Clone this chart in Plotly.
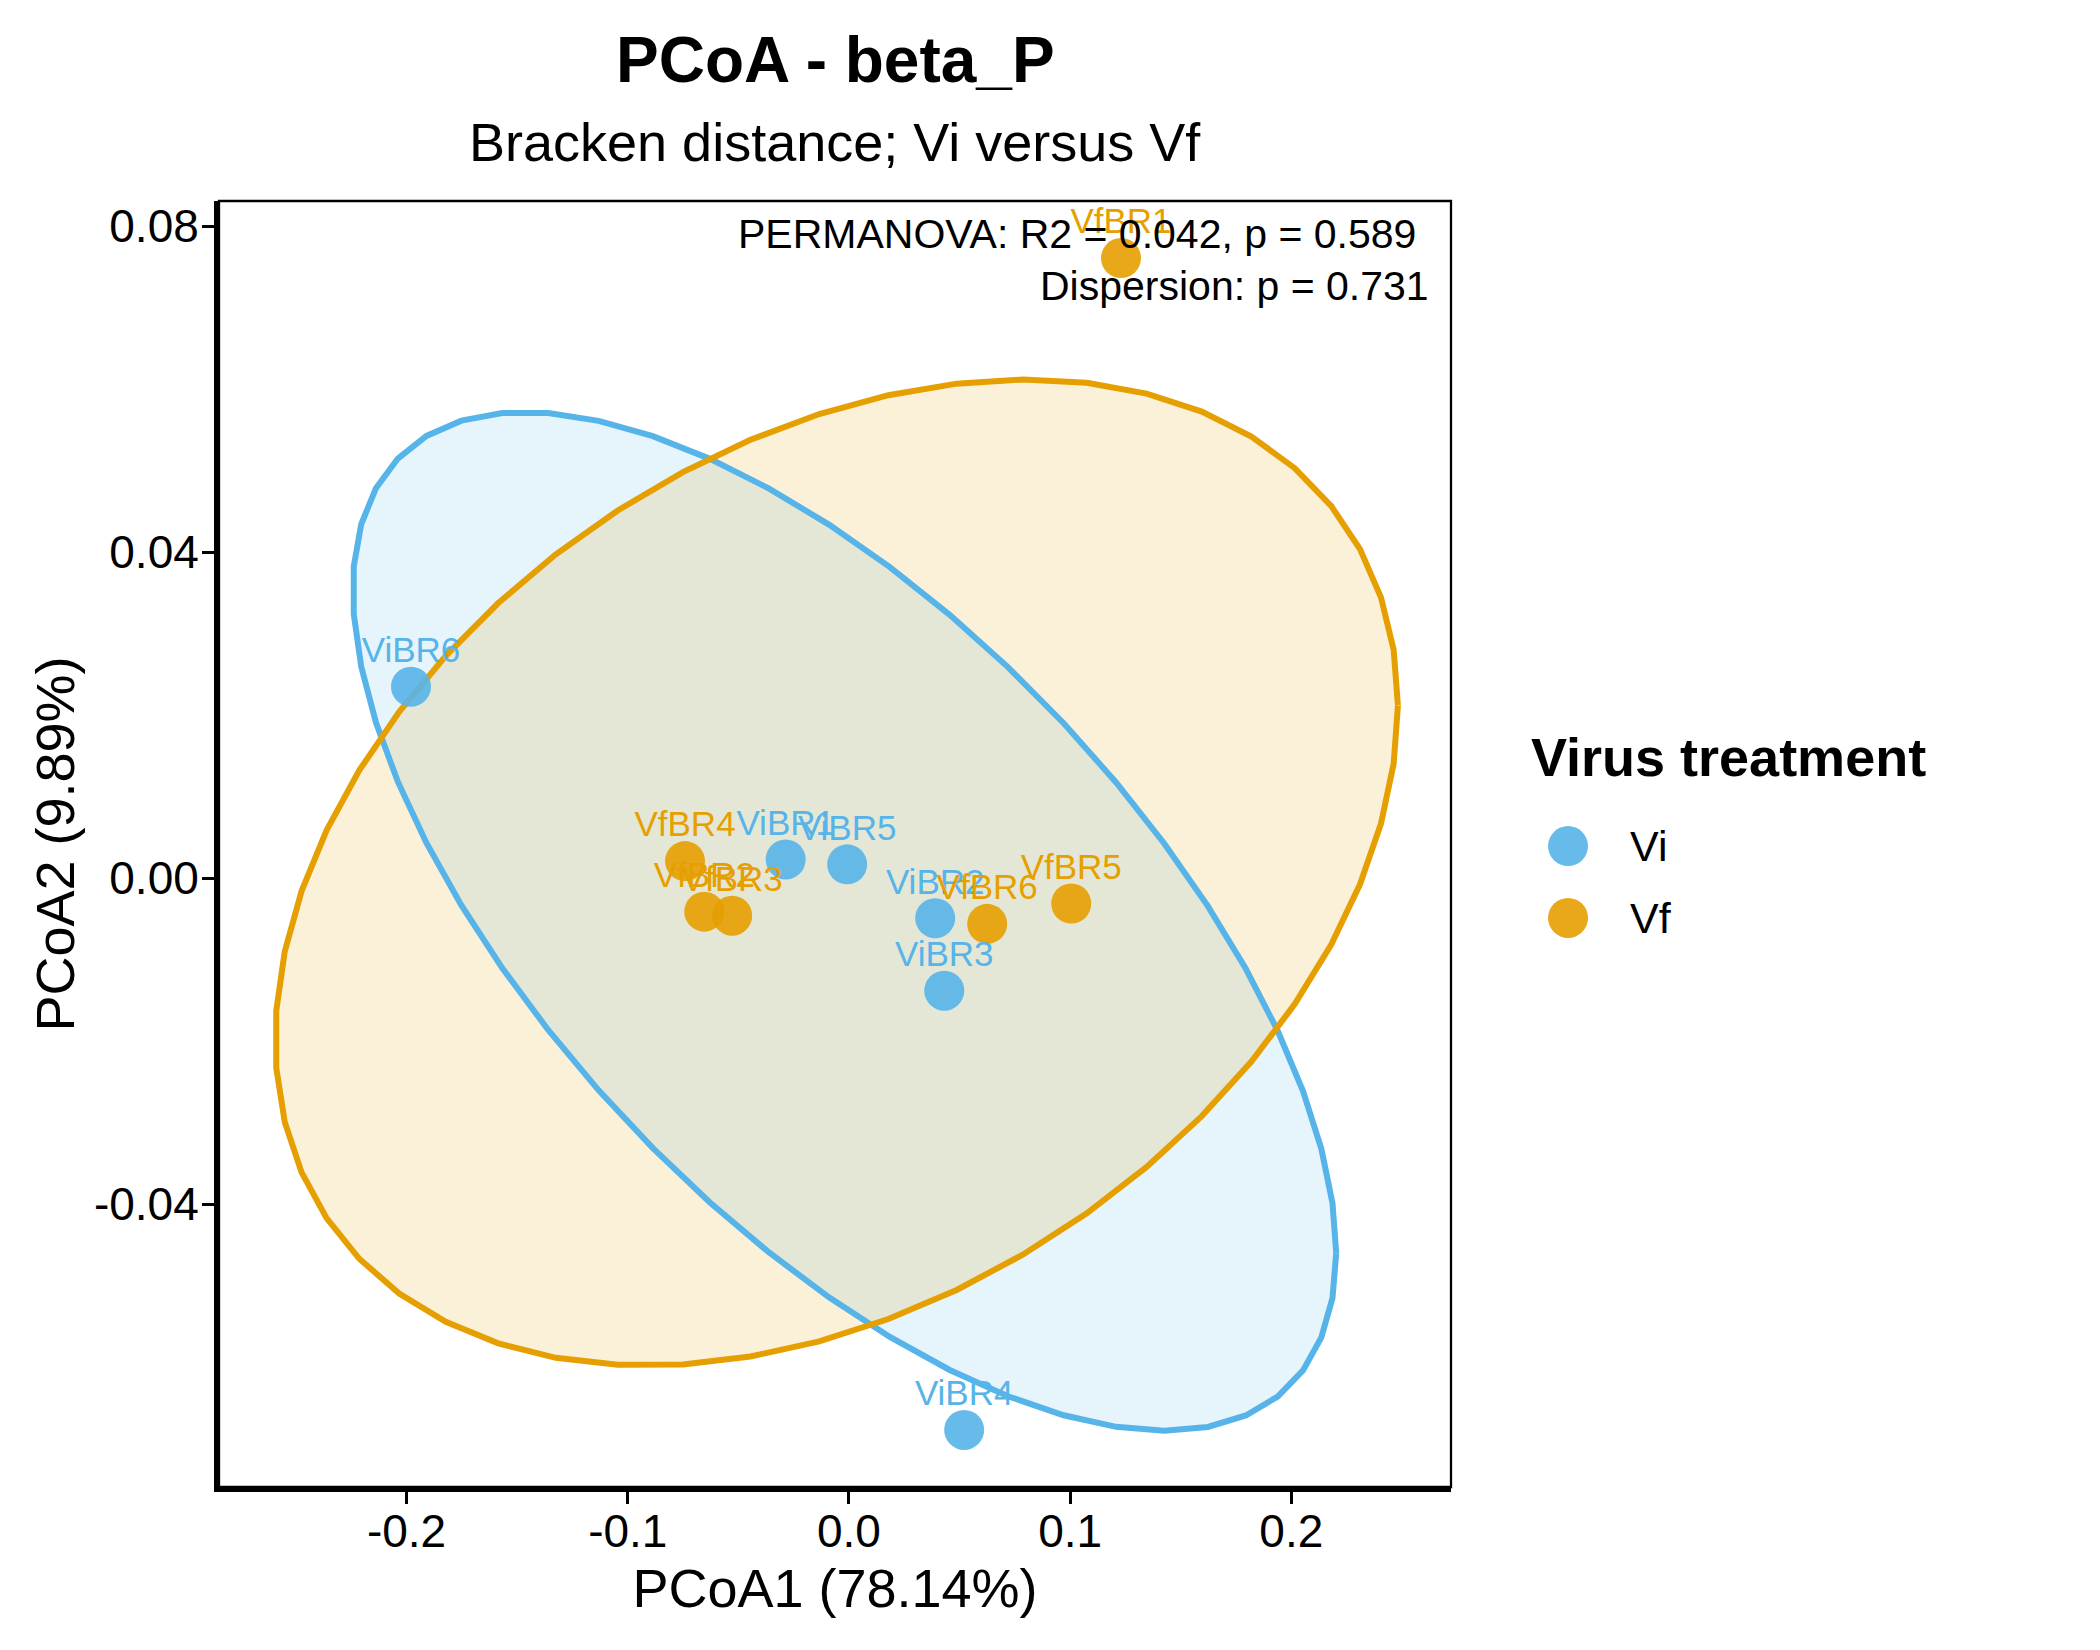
import numpy as np
import plotly.graph_objects as go

# sample scores
samples = ["ViBR1", "ViBR2", "ViBR3", "ViBR4", "ViBR5", "ViBR6",
           "VfBR1", "VfBR2", "VfBR3", "VfBR4", "VfBR5", "VfBR6"]
treatment = ["Vi", "Vi", "Vi", "Vi", "Vi", "Vi",
             "Vf", "Vf", "Vf", "Vf", "Vf", "Vf"]
pcoa1 = [-0.0286, 0.0390, 0.0431, 0.0521, -0.0008, -0.1980,
         0.1230, -0.0654, -0.0528, -0.0741, 0.1005, 0.0625]
pcoa2 = [0.0023, -0.0049, -0.0138, -0.0677, 0.0017, 0.0235,
         0.0761, -0.0041, -0.0046, 0.0021, -0.0031, -0.0056]

groups = ["Vi", "Vf"]
group_colors = {"Vi": "#56B4E9", "Vf": "#E69F00"}
group_fills = {"Vi": "rgba(86,180,233,0.15)", "Vf": "rgba(230,159,0,0.15)"}

# 95% ellipses (stat_ellipse):
# centre, half width, half height, y offset of the rightmost point
ell_center = {"Vi": (-0.0020, -0.0053), "Vf": (-0.0056, 0.0007)}
ell_half_width = {"Vi": 0.2223, "Vf": 0.2538}
ell_half_height = {"Vi": 0.0625, "Vf": 0.0605}
ell_tilt = {"Vi": -0.0407, "Vf": 0.0205}

x_ticks = [-0.2, -0.1, 0.0, 0.1, 0.2]
x_tick_labels = ["-0.2", "-0.1", "0.0", "0.1", "0.2"]
y_ticks = [-0.04, 0.0, 0.04, 0.08]
y_tick_labels = ["-0.04", "0.00", "0.04", "0.08"]

title = "PCoA - beta_P"
subtitle = "Bracken distance; Vi versus Vf"
x_title = "PCoA1 (78.14%)"
y_title = "PCoA2 (9.89%)"
stat_line1 = "PERMANOVA: R2 = 0.042, p = 0.589"
stat_line2 = "Dispersion: p = 0.731"
legend_title = "Virus treatment"

FONT = "Liberation Sans, Arial, sans-serif"
LABEL_NUDGE = 0.0041  # sample names sit just above their dots


def ellipse_path(g):
    t = np.linspace(0, 2 * np.pi, 52)
    cx, cy = ell_center[g]
    dy = ell_tilt[g]
    l22 = np.sqrt(ell_half_height[g] ** 2 - dy ** 2)
    return cx + ell_half_width[g] * np.cos(t), cy + dy * np.cos(t) + l22 * np.sin(t)


fig = go.Figure()

# ellipse fills first, then their outlines on top
for g in groups:
    ex, ey = ellipse_path(g)
    fig.add_trace(go.Scatter(
        x=ex, y=ey, mode="lines", fill="toself", fillcolor=group_fills[g],
        line=dict(width=0), hoverinfo="skip", showlegend=False,
    ))
for g in groups:
    ex, ey = ellipse_path(g)
    fig.add_trace(go.Scatter(
        x=ex, y=ey, mode="lines",
        line=dict(color=group_colors[g], width=6),
        hoverinfo="skip", showlegend=False,
    ))

for g in groups:
    idx = [i for i, tr in enumerate(treatment) if tr == g]
    fig.add_trace(go.Scatter(
        x=[pcoa1[i] for i in idx],
        y=[pcoa2[i] for i in idx],
        text=[samples[i] for i in idx],
        mode="markers",
        marker=dict(size=40, color=group_colors[g], opacity=0.9, line=dict(width=0)),
        name=g, showlegend=False,
    ))

for g in groups:
    idx = [i for i, tr in enumerate(treatment) if tr == g]
    fig.add_trace(go.Scatter(
        x=[pcoa1[i] for i in idx],
        y=[pcoa2[i] + LABEL_NUDGE for i in idx],
        text=[samples[i] for i in idx],
        mode="text", textposition="middle center",
        textfont=dict(family=FONT, size=35, color=group_colors[g]),
        hoverinfo="skip", showlegend=False,
    ))

axis_common = dict(
    showgrid=False, zeroline=False, showline=True, linecolor="black", linewidth=5,
    ticks="outside", ticklen=12, tickwidth=3, tickcolor="black",
    tickfont=dict(family=FONT, size=46, color="black"),
)
fig.update_xaxes(range=[-0.2848, 0.2722], tickvals=x_ticks, ticktext=x_tick_labels,
                 ticklabelstandoff=-12,
                 title=dict(text=x_title, font=dict(family=FONT, size=54, color="black"), standoff=14),
                 **axis_common)
fig.update_yaxes(range=[-0.0747, 0.0831], tickvals=y_ticks, ticktext=y_tick_labels,
                 ticklabelstandoff=-6,
                 title=dict(text=y_title, font=dict(family=FONT, size=54, color="black"), standoff=4),
                 **axis_common)

# thin top/right panel border
fig.add_shape(type="rect", xref="paper", yref="paper", x0=0, x1=1, y0=0, y1=1,
              line=dict(color="black", width=2.3), fillcolor="rgba(0,0,0,0)")

annotations = [
    dict(text="<b>" + title + "</b>", x=0.5, y=1.1096, xref="paper", yref="paper",
         showarrow=False, xanchor="center", yanchor="middle",
         font=dict(family=FONT, size=64, color="black")),
    dict(text=subtitle, x=0.5, y=1.0458, xref="paper", yref="paper", showarrow=False,
         xanchor="center", yanchor="middle", font=dict(family=FONT, size=54, color="black")),
    dict(text=stat_line1, x=0.9732, y=0.9743, xref="paper", yref="paper", showarrow=False,
         xanchor="right", yanchor="middle", font=dict(family=FONT, size=41, color="black")),
    dict(text=stat_line2, x=0.9837, y=0.9339, xref="paper", yref="paper", showarrow=False,
         xanchor="right", yanchor="middle", font=dict(family=FONT, size=41, color="black")),
    dict(text="<b>" + legend_title + "</b>", x=1.0633, y=0.5673, xref="paper", yref="paper",
         showarrow=False, xanchor="left", yanchor="middle",
         font=dict(family=FONT, size=54, color="black")),
]

# legend keys drawn by hand so the dots keep their plot size
legend_y = {"Vi": 0.4984, "Vf": 0.4425}
for g in groups:
    fig.add_shape(type="circle", xref="paper", yref="paper",
                  xsizemode="pixel", ysizemode="pixel",
                  xanchor=1.0950, yanchor=legend_y[g], x0=-20, x1=20, y0=-20, y1=20,
                  fillcolor=group_colors[g], opacity=0.9, line=dict(width=0))
    annotations.append(dict(text=g, x=1.1437, y=legend_y[g], xref="paper", yref="paper",
                            showarrow=False, xanchor="left", yanchor="middle",
                            font=dict(family=FONT, size=43, color="black")))

# page body keeps its default 8px margin, so the figure is a bit smaller
fig.update_layout(
    width=2084, height=1634,
    margin=dict(l=211, r=641, t=193, b=155),
    paper_bgcolor="white", plot_bgcolor="white",
    annotations=annotations,
    showlegend=False,
)

fig.write_html("out.html")
